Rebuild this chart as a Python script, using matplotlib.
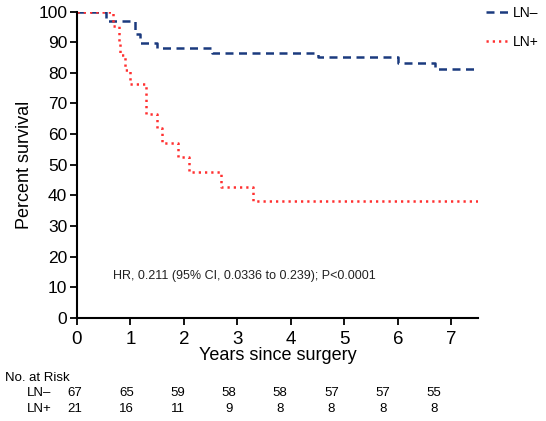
import matplotlib
matplotlib.use("Agg")
import matplotlib.pyplot as plt

plt.rcParams['font.family'] = ['Liberation Sans', 'DejaVu Sans']

# Kaplan-Meier step data
ln_neg_t = [0, 0.54, 1.08, 1.18, 1.49, 2.53, 4.5, 6.0, 6.7, 7.5]
ln_neg_s = [100, 97.0, 92.5, 89.6, 88.1, 86.6, 85.1, 83.3, 81.2, 81.2]
ln_pos_t = [0, 0.68, 0.78, 0.8, 0.9, 0.99, 1.29, 1.49, 1.59, 1.89, 2.1, 2.69, 3.29, 7.5]
ln_pos_s = [100, 95.2, 90.5, 85.7, 81.0, 76.2, 66.7, 61.9, 57.1, 52.4, 47.6, 42.9, 38.1, 38.1]

risk_neg = [67, 65, 59, 58, 58, 57, 57, 55]
risk_pos = [21, 16, 11, 9, 8, 8, 8, 8]
hr_text = "HR, 0.211 (95% CI, 0.0336 to 0.239); P<0.0001"

fig = plt.figure(figsize=(5.46, 4.21), dpi=100)
ax = fig.add_axes([77/546, 1-318/421, (478-77)/546, (318-11.5)/421])

ax.step(ln_neg_t, ln_neg_s, where='post', color='#1b3a7e', lw=1.8,
        linestyle=(0, (3.2, 2.2)), label='LN\u2013')
ax.step(ln_pos_t, ln_pos_s, where='post', color='#ff3030', lw=1.8,
        linestyle=(0, (0.9, 1.6)), label='LN+')

ax.set_xlim(0, 7.5)
ax.set_ylim(0, 100)
ax.set_xticks(range(0, 8))
ax.set_yticks(range(0, 101, 10))
ax.spines['top'].set_visible(False)
ax.spines['right'].set_visible(False)
ax.spines['left'].set_linewidth(1.5)
ax.spines['bottom'].set_linewidth(1.5)
ax.tick_params(axis='x', labelsize=13.5, length=5, width=1.3, pad=4)
ax.tick_params(axis='y', labelsize=12.5, length=5, width=1.3, pad=2)
ax.set_xlabel('Years since surgery', fontsize=13, labelpad=0)
ax.set_ylabel('Percent survival', fontsize=13, labelpad=4)

ax.text(0.67, 13.7, hr_text, fontsize=9, va='center', ha='left', color='#222222')

ax.legend(loc='upper left', bbox_to_anchor=(1.0, 1.045), frameon=False,
          fontsize=10, handlelength=1.6, handletextpad=0.3, labelspacing=1.1,
          borderaxespad=0.2)

# number at risk table
fig.text(5/546, 1-378/421, 'No. at Risk', fontsize=9.5, va='center', ha='left')
fig.text(27/546, 1-393/421, 'LN\u2013', fontsize=9.5, va='center', ha='left')
fig.text(27/546, 1-409/421, 'LN+', fontsize=9.5, va='center', ha='left')
for i, (a, b) in enumerate(zip(risk_neg, risk_pos)):
    xp = (75 + 51.3*i)/546
    fig.text(xp, 1-393/421, str(a), fontsize=9.5, va='center', ha='center')
    fig.text(xp, 1-409/421, str(b), fontsize=9.5, va='center', ha='center')

fig.savefig('out.png', dpi=100)
